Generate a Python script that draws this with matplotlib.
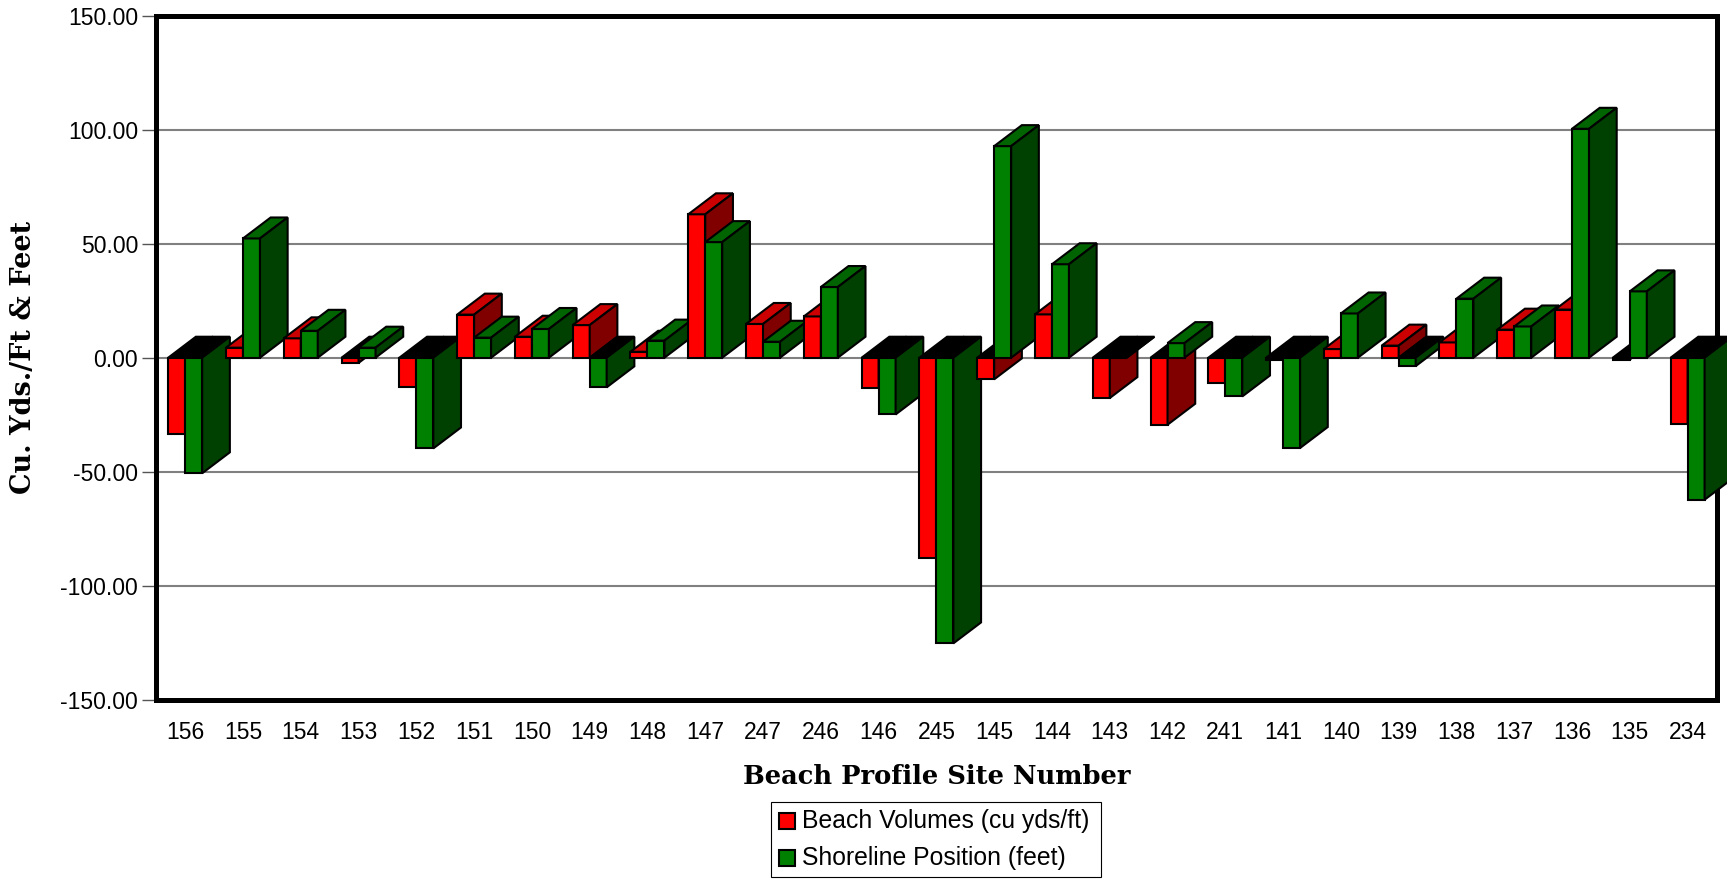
import numpy as np
import matplotlib.pyplot as plt
from matplotlib.patches import Polygon, Rectangle

# -------------------- data --------------------
sites = ["156", "155", "154", "153", "152", "151", "150", "149", "148",
         "147", "247", "246", "146", "245", "145", "144", "143", "142",
         "241", "141", "140", "139", "138", "137", "136", "135", "234"]
beach_volumes = [-33.6, 4.4, 8.5, -2.3, -12.7, 18.9, 9.2, 14.3, 2.6,
                 62.9, 14.8, 18.1, -13.2, -87.7, -9.5, 19.0, -17.7, -29.4,
                 -11.1, -1.0, 3.8, 5.3, 6.7, 12.3, 21.1, -0.8, -28.9]
shoreline_position = [-50.7, 52.3, 11.8, 4.4, -39.8, 8.8, 12.6, -13.0, 7.5,
                      50.7, 7.0, 31.0, -24.9, -125.3, 92.8, 41.0, 0.0, 6.4,
                      -17.0, -39.6, 19.4, -3.7, 25.9, 13.7, 100.4, 29.1, -62.3]
series_labels = ["Beach Volumes (cu yds/ft)", "Shoreline Position (feet)"]
yticks = [-150, -100, -50, 0, 50, 100, 150]

# face colours: front, top, side
red_faces = ("#ff0000", "#cc0000", "#800000")
green_faces = ("#008000", "#006400", "#004000")

BAR_W = 0.294   # bar width (category units)
DX = 0.479      # depth offset, category units
DY = 9.2        # depth offset, data units

W, H = 1727, 882
SANS = "Liberation Sans"
SERIF = "DejaVu Serif"


def px(x, y):
    # pixel (from top-left) -> figure fraction
    return x / W, 1 - y / H


def draw_bar(ax, x0, v, faces):
    front, top, side = faces
    x1 = x0 + BAR_W
    if v > 0:
        polys = [([(x0, 0), (x1, 0), (x1, v), (x0, v)], front),
                 ([(x0, v), (x1, v), (x1 + DX, v + DY), (x0 + DX, v + DY)], top),
                 ([(x1, 0), (x1, v), (x1 + DX, v + DY), (x1 + DX, DY)], side)]
    else:
        polys = [([(x0, v), (x1, v), (x1, 0), (x0, 0)], front),
                 ([(x0, 0), (x1, 0), (x1 + DX, DY), (x0 + DX, DY)], "black"),
                 ([(x1, v), (x1, 0), (x1 + DX, DY), (x1 + DX, v + DY)], side)]
    for pts, c in polys:
        ax.add_patch(Polygon(pts, closed=True, facecolor=c, edgecolor="black",
                             lw=1.5, joinstyle="miter", clip_on=False, zorder=3))


fig = plt.figure(figsize=(W / 100, H / 100), dpi=100)
ax = fig.add_axes([156.3 / W, 1 - 699.7 / H, (1716.5 - 156.3) / W, (699.7 - 15.7) / H])

x = np.arange(len(sites))
for i in x:
    draw_bar(ax, i - BAR_W, beach_volumes[i], red_faces)
    draw_bar(ax, i, shoreline_position[i], green_faces)

ax.set_xlim(-0.5, len(sites) - 0.5)
ax.set_ylim(-150, 150)
ax.set_yticks(yticks)
ax.set_yticklabels([f"{t:.2f}" for t in yticks], fontname=SANS, fontsize=16.5)
ax.set_xticks(x)
ax.set_xticklabels(sites, fontname=SANS, fontsize=16.5)
ax.tick_params(axis="x", length=0, pad=15)
ax.tick_params(axis="y", length=10, width=1, color="#555555", pad=3, direction="out")

ax.yaxis.grid(True, color="#808080", lw=1.5)
ax.set_axisbelow(True)
for s in ax.spines.values():
    s.set_linewidth(3.6)
    s.set_color("black")

ax.set_xlabel("Beach Profile Site Number", fontname=SERIF, fontweight="bold",
              fontsize=18.5, va="center")
ax.xaxis.set_label_coords(0.5, (699.7 - 777) / (699.7 - 15.7))
ax.set_ylabel("Cu. Yds./Ft & Feet", fontname=SERIF, fontweight="bold",
              fontsize=19.5, va="center")
ax.yaxis.set_label_coords((24 - 156.3) / (1716.5 - 156.3), 0.5)

# -------------------- legend --------------------
lx0, ly0 = px(771, 877)
lx1, ly1 = px(1101, 802)
fig.add_artist(Rectangle((lx0, ly0), lx1 - lx0, ly1 - ly0, transform=fig.transFigure,
                         facecolor="white", edgecolor="black", lw=0.8))
for lab, faces, yc in zip(series_labels, (red_faces, green_faces), (821, 858)):
    mx, my = px(779, yc + 8)
    fig.add_artist(Rectangle((mx, my), 16 / W, 16 / H, transform=fig.transFigure,
                             facecolor=faces[0], edgecolor="black", lw=1.5))
    tx, ty = px(802, yc)
    fig.text(tx, ty, lab, fontname=SANS, fontsize=17.8, ha="left", va="center")

fig.savefig("out.png", dpi=100)
